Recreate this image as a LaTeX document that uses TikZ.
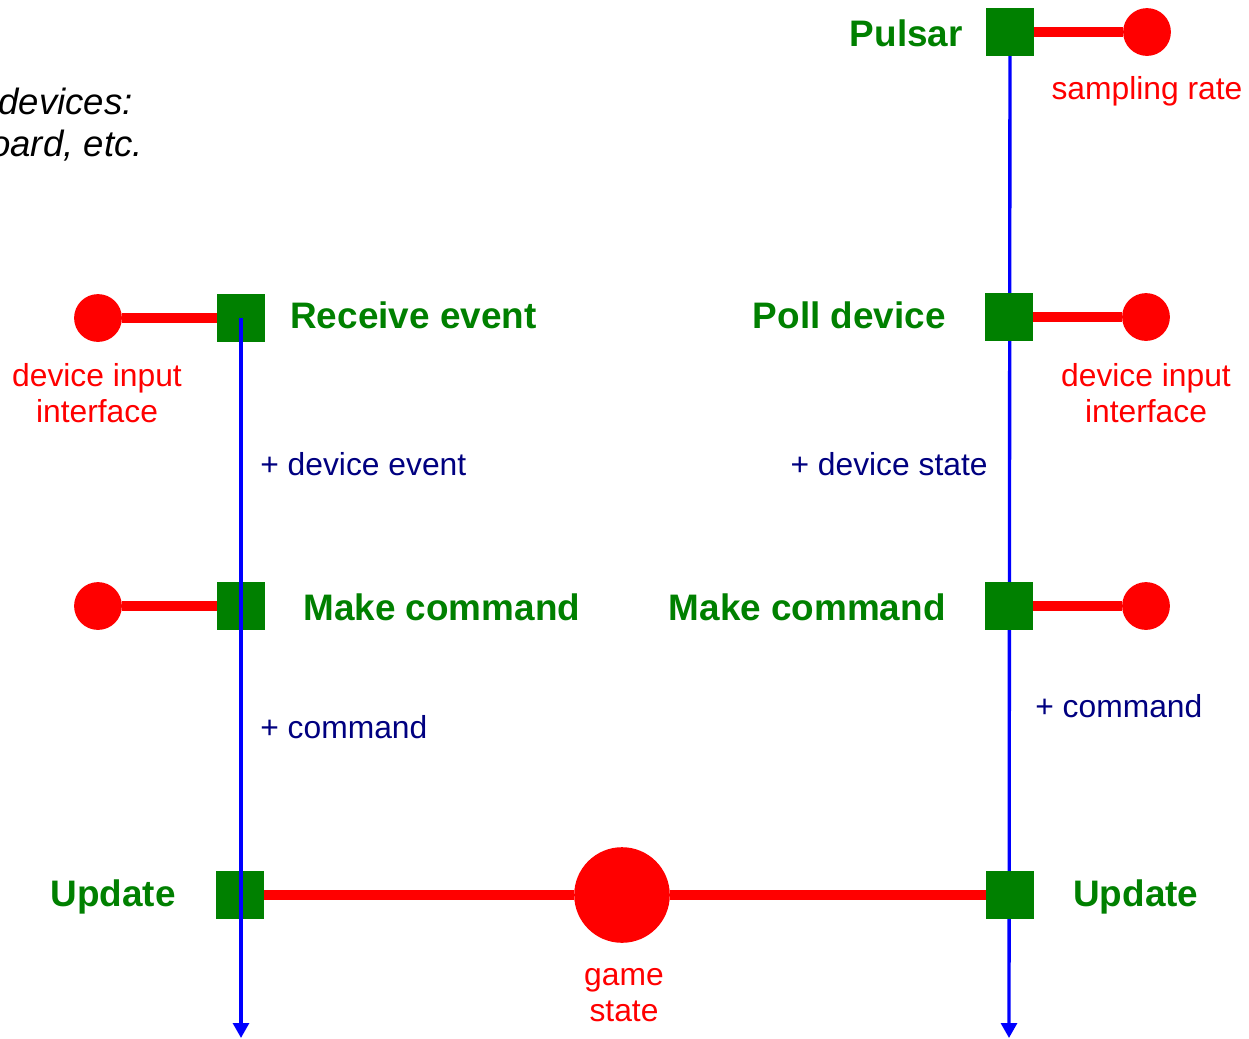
\documentclass[tikz,border=0pt]{standalone}
\usepackage{fontspec}
\setmainfont{Liberation Sans}
\usetikzlibrary{arrows.meta}
\pgfdeclarelayer{background}
\pgfsetlayers{background,main}
\definecolor{stagegreen}{HTML}{008000}
\definecolor{flowblue}{HTML}{0000FF}
\definecolor{datanavy}{HTML}{000080}
\newdimen\pxu \pxu=0.566929pt

\begin{document}
\begin{tikzpicture}[x=0.02cm, y=-0.02cm,
  stage/.style={fill=stagegreen, minimum size=48\pxu, inner sep=0pt, draw=none},
  port/.style={circle, fill=red, minimum size=48\pxu, inner sep=0pt, draw=none},
  wire/.style={draw=red, line width=11\pxu},
  flow/.style={draw=flowblue, line width=1.9pt, -{Triangle[width=9pt, length=8.5pt]}},
  title/.style={text=stagegreen, font=\fontsize{21}{25}\selectfont\bfseries, inner sep=0pt},
  note/.style={text=red, font=\fontsize{18.1}{20.4}\selectfont, align=center, inner sep=0pt},
  data/.style={text=datanavy, font=\fontsize{18.1}{22}\selectfont, inner sep=0pt},
  remark/.style={font=\fontsize{20.8}{23}\selectfont\itshape, inner sep=0pt},
]
\path[use as bounding box] (0,0) rectangle (1249,1039);
\clip (0,0) rectangle (1249,1039);

% event-driven column
\node[port]  (inL1) at (98,318) {};
\node[stage] (recv) at (241,318) {};
\node[port]  (inL2) at (98,606) {};
\node[stage] (cmdL) at (241,606) {};
\node[stage] (updL) at (240,895) {};
\coordinate (endL) at (241,1038);

% shared game state
\node[port, minimum size=96\pxu] (game) at (622,895) {};

% polled column
\node[stage] (pulsar) at (1010,32) {};
\node[port]  (rate)   at (1147,32) {};
\node[stage] (poll)   at (1009,317) {};
\node[port]  (inR1)   at (1146,317) {};
\node[stage] (cmdR)   at (1009,606) {};
\node[port]  (inR2)   at (1146,606) {};
\node[stage] (updR)   at (1010,895) {};
\coordinate (endR) at (1009,1038);

\begin{pgfonlayer}{background}
  \draw[wire] (inL1) -- (recv.center);
  \draw[wire] (inL2) -- (cmdL.center);
  \draw[wire] (updL.center) -- (game) -- (updR.center);
  \draw[wire] (pulsar.center) -- (rate);
  \draw[wire] (poll.center) -- (inR1);
  \draw[wire] (cmdR.center) -- (inR2);
  \draw[flow] (pulsar.center) -- (endR);
\end{pgfonlayer}

% the event column's flow runs over its stages
\draw[flow] (recv.center) -- (endL);

% stage titles
\node[title, anchor=base east] (pulsarLbl) at (963,46)  {Pulsar};
\node[title, anchor=base west] (recvLbl)   at (290,328) {Receive event};
\node[title, anchor=base east] (pollLbl)   at (946,328) {Poll device};
\node[title, anchor=base west] (cmdLLbl)   at (303,620) {Make command};
\node[title, anchor=base east] (cmdRLbl)   at (946,620) {Make command};
\node[title, anchor=base east] (updLLbl)   at (176,906) {Update};
\node[title, anchor=base west] (updRLbl)   at (1073,906) {Update};

% inputs (base anchor sits on the last line)
\node[note, anchor=base] (rateLbl) at (1147,99)  {sampling rate};
\node[note, anchor=base] (inL1Lbl) at (97,422)   {device input\\interface};
\node[note, anchor=base] (inR1Lbl) at (1146,422) {device input\\interface};
\node[note, anchor=base] (gameLbl) at (624,1021) {game\\state};

% data carried along the flows
\node[data, anchor=base west] (evtLbl)  at (260,475)  {+ device event};
\node[data, anchor=base east] (stLbl)   at (988,475)  {+ device state};
\node[data, anchor=base west] (cmdLd)   at (260,738)  {+ command};
\node[data, anchor=base west] (cmdRd)   at (1035,717) {+ command};

% side remark
\node[remark, anchor=base east] (rem1) at (133,114) {devices:};
\node[remark, anchor=base east] (rem2) at (143,156) {board, etc.};
\end{tikzpicture}
\end{document}
